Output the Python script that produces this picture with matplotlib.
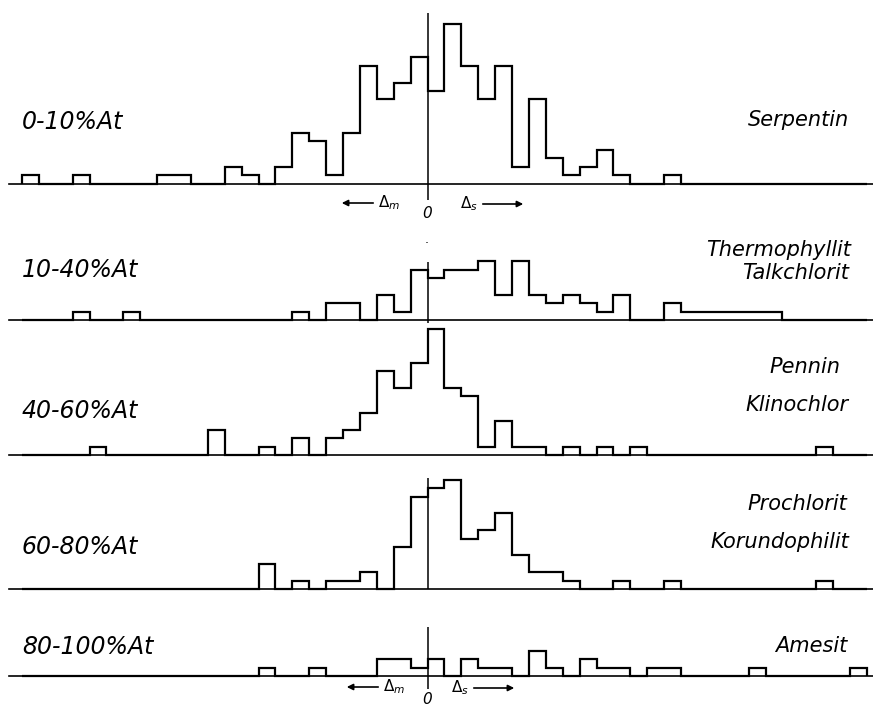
import numpy as np
import matplotlib.pyplot as plt

# bins of width 1 from -24 to 26, the vertical line sits at 0
edges = np.arange(-24, 27)

# counts per bin, left part = bins -24..-1, right part = bins 0..25
serpentin_left = [1, 0, 0, 1, 0, 0, 0, 0, 1, 1, 0, 0, 2, 1, 0, 2, 6, 5, 1, 6, 14, 10, 12, 15]
serpentin_right = [11, 19, 14, 10, 14, 2, 10, 3, 1, 2, 4, 1, 0, 0, 1, 0, 0, 0, 0, 0, 0, 0, 0, 0, 0, 0]

thermo_left = [0, 0, 0, 1, 0, 0, 1, 0, 0, 0, 0, 0, 0, 0, 0, 0, 1, 0, 2, 2, 0, 3, 1, 6]
thermo_right = [5, 6, 6, 7, 3, 7, 3, 2, 3, 2, 1, 3, 0, 0, 2, 1, 1, 1, 1, 1, 1, 0, 0, 0, 0, 0]

pennin_left = [0, 0, 0, 0, 1, 0, 0, 0, 0, 0, 0, 3, 0, 0, 1, 0, 2, 0, 2, 3, 5, 10, 8, 11]
pennin_right = [15, 8, 7, 1, 4, 1, 1, 0, 1, 0, 1, 0, 1, 0, 0, 0, 0, 0, 0, 0, 0, 0, 0, 1, 0, 0]

prochlorit_left = [0, 0, 0, 0, 0, 0, 0, 0, 0, 0, 0, 0, 0, 0, 3, 0, 1, 0, 1, 1, 2, 0, 5, 11]
prochlorit_right = [12, 13, 6, 7, 9, 4, 2, 2, 1, 0, 0, 1, 0, 0, 1, 0, 0, 0, 0, 0, 0, 0, 0, 1, 0, 0]

amesit_left = [0, 0, 0, 0, 0, 0, 0, 0, 0, 0, 0, 0, 0, 0, 1, 0, 0, 1, 0, 0, 0, 2, 2, 1]
amesit_right = [2, 0, 2, 1, 1, 0, 3, 1, 0, 2, 1, 1, 0, 1, 1, 0, 0, 0, 0, 1, 0, 0, 0, 0, 0, 1]

ranges = ["0-10%At", "10-40%At", "40-60%At", "60-80%At", "80-100%At"]
minerals = [["Serpentin"], ["Thermophyllit", "Talkchlorit"], ["Pennin", "Klinochlor"],
            ["Prochlorit", "Korundophilit"], ["Amesit"]]
counts = [serpentin_left + serpentin_right,
          thermo_left + thermo_right,
          pennin_left + pennin_right,
          prochlorit_left + prochlorit_right,
          amesit_left + amesit_right]

# layout in pixels (from top of image)
W, H = 873, 707
X0 = 427.5      # px of the zero line
PXBIN = 16.9    # px per bin
PXCNT = 8.4     # px per count
baselines = [183.5, 320, 455, 589, 676]
zero_line = [(-2.0, 20.3), (-0.4, 6.9), (0, 0), (0, 13.2), (-1.5, 5.8)]
range_y = [122, 270, 411, 547, 647]
mineral_y = [[120], [250, 273], [367, 405], [504, 542], [646]]
mineral_x = [[849], [851, 849], [840, 849], [847, 849], [847]]
BELOW, ABOVE = 22, 175

fig = plt.figure(figsize=(W / 100, H / 100), dpi=100)

def fx(px):
    return px / W

def fy(py):
    return 1 - py / H

for i in range(5):
    yb = baselines[i]
    ax = fig.add_axes([0, (H - (yb + BELOW)) / H, 1, (BELOW + ABOVE) / H])
    ax.set_xlim(-X0 / PXBIN, (W - X0) / PXBIN)
    ax.set_ylim(-BELOW / PXCNT, ABOVE / PXCNT)
    ax.axis("off")
    ax.axhline(0, xmin=0.01, xmax=1, color="k", lw=1.2)
    ax.stairs(counts[i], edges, baseline=0, color="k", lw=1.6)
    lo, hi = zero_line[i]
    if hi > lo:
        ax.vlines(0, lo, hi, color="k", lw=1.1)

    fig.text(fx(22), fy(range_y[i]), ranges[i], fontsize=17, style="italic",
             ha="left", va="center")
    for name, x, y in zip(minerals[i], mineral_x[i], mineral_y[i]):
        fig.text(fx(x), fy(y), name, fontsize=15, style="italic",
                 ha="right", va="center")

# direction markers under the first and the last panel
for ya, y0, xm, xs in [(203, 214, 389, 469), (687, 700, 394, 460)]:
    fig.text(fx(xm), fy(ya), r"$\Delta_m$", fontsize=11, ha="center", va="center")
    fig.text(fx(xs), fy(ya + 1), r"$\Delta_s$", fontsize=11, ha="center", va="center")
    fig.text(fx(427), fy(y0), "0", fontsize=11, style="italic", ha="center", va="center")
    ax.annotate("", xy=(fx(xm - 50), fy(ya)), xytext=(fx(xm - 13), fy(ya)),
                xycoords="figure fraction", textcoords="figure fraction",
                arrowprops=dict(arrowstyle="-|>", color="k", lw=1.2, mutation_scale=9))
    ax.annotate("", xy=(fx(xs + 57), fy(ya + 1)), xytext=(fx(xs + 11), fy(ya + 1)),
                xycoords="figure fraction", textcoords="figure fraction",
                arrowprops=dict(arrowstyle="-|>", color="k", lw=1.2, mutation_scale=9))

fig.text(fx(427), fy(240), ".", fontsize=9, ha="center", va="center")

fig.savefig("out.png", dpi=100)
